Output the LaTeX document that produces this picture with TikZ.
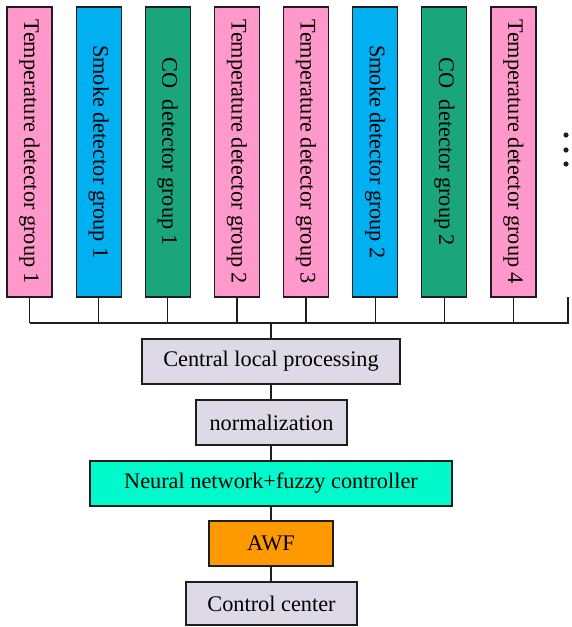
\documentclass[tikz,border=0pt]{standalone}
\usepackage{fontspec}
\setmainfont{Liberation Serif}
\definecolor{temppink}{RGB}{255,153,204}
\definecolor{smokeblue}{RGB}{0,176,240}
\definecolor{cogreen}{RGB}{26,166,122}
\definecolor{lav}{RGB}{221,217,230}
\definecolor{aqua}{RGB}{0,250,204}
\definecolor{awforange}{RGB}{255,153,0}
\definecolor{edge}{RGB}{30,30,30}
\begin{document}
\begin{tikzpicture}[x=1pt,y=-1pt,
  line width=1.2pt,
  sensor/.style={draw=edge, minimum width=45pt, minimum height=290pt, inner sep=0pt},
  sensortext/.style={rotate=-90, font=\fontsize{22.3}{24}\selectfont, inner sep=0pt},
  stage/.style={draw=edge, minimum height=45pt, inner sep=0pt, font=\fontsize{22.3}{24}\selectfont},
  wire/.style={draw=edge, line width=1.2pt}]
\useasboundingbox (0,0) rectangle (571,627);

% detector groups
\foreach \i/\col/\txt in {0/temppink/Temperature detector group 1,
                          1/smokeblue/Smoke detector group 1,
                          2/cogreen/CO\ \ detector group 1,
                          3/temppink/Temperature detector group 2,
                          4/temppink/Temperature detector group 3,
                          5/smokeblue/Smoke detector group 2,
                          6/cogreen/CO\ \ detector group 2,
                          7/temppink/Temperature detector group 4}{
  \node[sensor, fill=\col] (g\i) at ({29.5+69.14*\i},152) {};
  \node[sensortext] (t\i) at (g\i.center) {\txt};
}

% bus line
\coordinate (busL) at (29.5,323);
\coordinate (busR) at (568,323);
\coordinate (busRtop) at (568,297);
\foreach \i in {0,...,7}{
  \draw[wire] (g\i.south) -- (g\i.south |- busL);
}
\draw[wire] (busL) -- (busR) -- (busRtop);

% continuation dots
\foreach \k/\yy in {a/135,b/150,c/164}{
  \fill[edge] (566,\yy) circle (2.6pt) coordinate (dot\k);
}

% processing chain
\node[stage, fill=lav, minimum width=258pt] (clp) at (271,361.5) {Central local processing};
\node[stage, fill=lav, minimum width=151pt] (norm) at (271.5,422.5) {normalization};
\node[stage, fill=aqua, minimum width=362pt] (nn) at (271,483.5) {Neural network+fuzzy controller};
\node[stage, fill=awforange, minimum width=124pt] (awf) at (271,543.5) {AWF};
\node[stage, fill=lav, minimum width=171pt, minimum height=43pt] (cc) at (271.5,603.5) {Control center};

\draw[wire] (clp.north) -- (clp.north |- busL);
\draw[wire] (clp.south) -- (norm.north -| clp.south);
\draw[wire] (norm.south -| clp.south) -- (nn.north -| clp.south);
\draw[wire] (nn.south -| clp.south) -- (awf.north -| clp.south);
\draw[wire] (awf.south -| clp.south) -- (cc.north -| clp.south);
\end{tikzpicture}
\end{document}
